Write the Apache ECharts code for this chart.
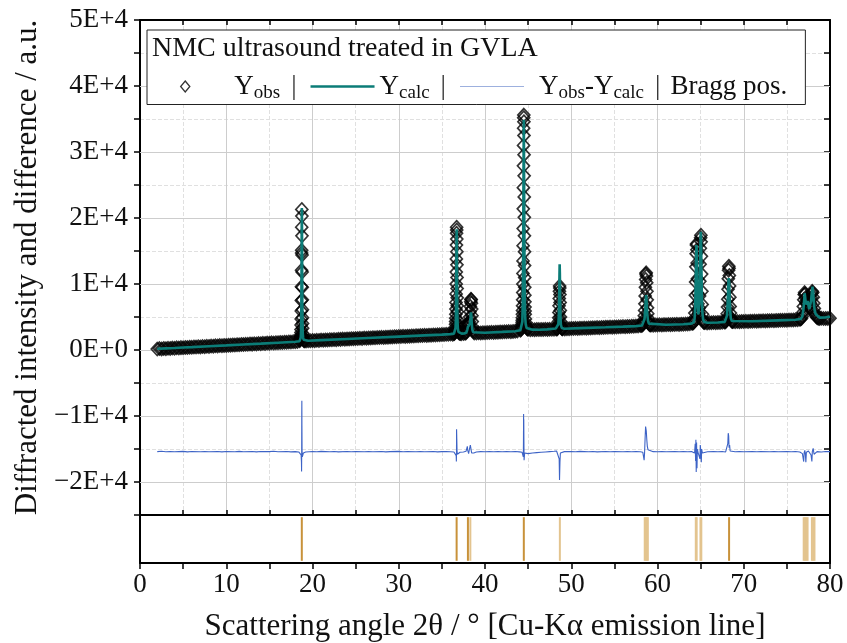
<!DOCTYPE html>
<html><head><meta charset="utf-8">
<script src="https://cdn.jsdelivr.net/npm/echarts/dist/echarts.min.js"></script>
<style>html,body{margin:0;padding:0;background:#fff}#c{width:847px;height:643px}</style>
</head><body><div id="c"></div>
<script>
// ---------- DATA ----------
const obsBackground = [
[2.00,140],[2.25,210],[2.50,170],[2.75,230],[3.00,200],[3.25,260],[3.50,240],[3.75,290],[4.00,260],[4.25,330],[4.50,300],[4.75,360],[5.00,340],[5.25,390],[5.50,370],[5.75,430],[6.00,410],[6.25,460],[6.50,440],[6.75,500],[7.00,470],[7.25,530],[7.50,510],[7.75,560],[8.00,540],[8.25,600],[8.50,580],[8.75,630],[9.00,610],[9.25,670],[9.50,650],[9.75,700],[10.00,680],[10.25,730],[10.50,720],[10.75,770],[11.00,750],[11.25,800],[11.50,790],[11.75,840],[12.00,820],[12.25,870],[12.50,860],[12.75,910],[13.00,890],[13.25,940],[13.50,920],[13.75,980],[14.00,960],[14.25,1010],[14.50,990],[14.75,1050],[15.00,1030],[15.25,1080],[15.50,1060],[15.75,1110],[16.00,1100],[16.25,1150],[16.50,1130],[16.75,1180],[17.00,1170],[17.25,1220],[17.50,1200],[17.75,1250],[18.00,1240],[18.25,1290],
[19.25,1370],[19.50,1410],[19.75,1390],[20.00,1440],[20.25,1420],[20.50,1470],[20.75,1450],[21.00,1500],[21.25,1480],[21.50,1530],[21.75,1510],[22.00,1560],[22.25,1550],[22.50,1590],[22.75,1570],[23.00,1620],[23.25,1610],[23.50,1650],[23.75,1640],[24.00,1680],[24.25,1670],[24.50,1710],[24.75,1700],[25.00,1740],[25.25,1730],[25.50,1770],[25.75,1760],[26.00,1800],[26.25,1790],[26.50,1830],[26.75,1820],[27.00,1860],[27.25,1850],[27.50,1890],[27.75,1880],[28.00,1920],[28.25,1910],[28.50,1950],[28.75,1940],[29.00,1980],[29.25,1970],[29.50,2010],[29.75,2000],[30.00,2040],[30.25,2030],[30.50,2070],[30.75,2060],[31.00,2100],[31.25,2090],[31.50,2130],[31.75,2120],[32.00,2160],[32.25,2150],[32.50,2190],[32.75,2180],[33.00,2220],[33.25,2210],[33.50,2250],[33.75,2240],[34.00,2280],[34.25,2270],[34.50,2310],[34.75,2300],[35.00,2340],[35.25,2330],[35.50,2380],[35.75,2370],[36.00,2410],[36.25,2400],
[37.25,2480],[37.50,2500],
[38.75,2570],[39.00,2560],[39.25,2600],[39.50,2590],[39.75,2630],[40.00,2610],[40.25,2650],[40.50,2640],[40.75,2680],[41.00,2660],[41.25,2700],[41.50,2690],[41.75,2730],[42.00,2720],[42.25,2760],[42.50,2750],[42.75,2790],[43.00,2780],[43.25,2820],[43.50,2830],[43.75,2880],
[45.00,3150],[45.25,3080],[45.50,3100],[45.75,3070],[46.00,3110],[46.25,3090],[46.50,3120],[46.75,3100],[47.00,3130],[47.25,3110],[47.50,3140],[47.75,3130],[48.00,3160],[48.25,3180],
[49.00,3230],[49.25,3200],[49.50,3230],[49.75,3220],[50.00,3260],[50.25,3240],[50.50,3280],[50.75,3270],[51.00,3300],[51.25,3290],[51.50,3330],[51.75,3310],[52.00,3350],[52.25,3340],[52.50,3370],[52.75,3360],[53.00,3400],[53.25,3380],[53.50,3420],[53.75,3410],[54.00,3450],[54.25,3430],[54.50,3470],[54.75,3460],[55.00,3500],[55.25,3480],[55.50,3520],[55.75,3510],[56.00,3550],[56.25,3530],[56.50,3570],[56.75,3560],[57.00,3600],[57.25,3580],[57.50,3620],[57.75,3640],[58.00,3700],
[59.25,3800],[59.50,3760],[59.75,3790],[60.00,3780],[60.25,3810],[60.50,3800],[60.75,3830],[61.00,3820],[61.25,3850],[61.50,3840],[61.75,3870],[62.00,3860],[62.25,3890],[62.50,3880],[62.75,3910],[63.00,3900],[63.25,3930],[63.50,3940],[63.75,3980],[64.00,4050],
[65.50,4150],[65.75,4100],[66.00,4130],[66.25,4120],[66.50,4150],[66.75,4140],[67.00,4170],[67.25,4160],[67.50,4200],[67.75,4240],
[68.75,4320],[69.00,4280],[69.25,4300],[69.50,4290],[69.75,4320],[70.00,4310],[70.25,4340],[70.50,4330],[70.75,4360],[71.00,4350],[71.25,4380],[71.50,4370],[71.75,4400],[72.00,4390],[72.25,4420],[72.50,4410],[72.75,4440],[73.00,4430],[73.25,4460],[73.50,4450],[73.75,4480],[74.00,4470],[74.25,4500],[74.50,4490],[74.75,4520],[75.00,4510],[75.25,4540],[75.50,4530],[75.75,4560],[76.00,4570],[76.25,4600],[76.50,4650],
[79.00,4800],[79.25,4760],[79.50,4790],[79.75,4780],[80.00,4800]
];
const obsPeaks = [
[18.50,1400],[18.56,1500],[18.60,1650],[18.62,1800],[18.64,2050],[18.65,2300],[18.66,2650],[18.67,3100],[18.68,3800],[18.69,4700],[18.70,5900],[18.71,7500],[18.72,9600],[18.73,12100],[18.74,14700],[18.745,15100],[18.75,18600],[18.76,21300],[18.77,20300],[18.78,17300],[18.79,14400],[18.80,11800],[18.81,9500],[18.82,7600],[18.83,6100],[18.84,4900],[18.85,4000],[18.86,3300],[18.88,2500],[18.90,2000],[18.93,1700],[18.97,1500],[19.02,1400],[19.08,1390],
[36.40,2450],[36.46,2550],[36.50,2700],[36.53,2900],[36.55,3100],[36.57,3450],[36.59,3900],[36.60,4300],[36.61,4800],[36.62,5400],[36.63,6200],[36.64,7200],[36.65,8500],[36.66,10000],[36.67,11800],[36.68,13800],[36.69,15900],[36.70,17700],[36.71,18600],[36.72,18200],[36.73,16800],[36.74,14900],[36.75,12900],[36.76,11000],[36.77,9300],[36.78,7900],[36.79,6700],[36.80,5800],[36.82,4600],[36.84,3800],[36.87,3200],[36.91,2850],[36.96,2650],[37.03,2550],[37.12,2500],
[37.70,2520],[37.80,2600],[37.88,2800],[37.94,3200],[37.98,3700],[38.01,4000],[38.04,4100],[38.07,3900],[38.10,3800],[38.14,3900],[38.18,4300],[38.22,5000],[38.26,5800],[38.30,6600],[38.34,7300],[38.37,7700],[38.40,7600],[38.43,7100],[38.46,6200],[38.49,5200],[38.52,4300],[38.56,3500],[38.61,3000],[38.67,2750],
[44.10,3000],[44.18,3100],[44.24,3300],[44.27,3550],[44.30,3900],[44.31,4200],[44.32,4500],[44.33,4900],[44.34,5400],[44.35,6000],[44.36,6700],[44.37,7600],[44.38,8700],[44.39,10000],[44.40,11600],[44.41,13500],[44.42,15800],[44.43,18400],[44.44,21400],[44.45,24600],[44.46,27900],[44.47,31000],[44.48,33600],[44.49,35200],[44.50,35600],[44.51,34600],[44.52,32500],[44.53,29600],[44.54,26400],[44.55,23200],[44.56,20100],[44.57,17300],[44.58,14900],[44.59,12800],[44.60,11000],[44.61,9500],[44.62,8300],[44.63,7300],[44.64,6500],[44.65,5900],[44.66,5400],[44.68,4700],[44.70,4200],[44.73,3800],[44.78,3500],[44.85,3300],[44.92,3200],
[48.35,3200],[48.42,3300],[48.47,3500],[48.50,3800],[48.53,4300],[48.55,4900],[48.57,5700],[48.59,6700],[48.61,7800],[48.63,8900],[48.65,9700],[48.67,9400],[48.69,8400],[48.71,7200],[48.73,6000],[48.75,5000],[48.77,4300],[48.80,3700],[48.84,3400],[48.90,3250],[48.96,3230],
[58.15,3720],[58.25,3800],[58.32,3950],[58.38,4200],[58.43,4600],[58.47,5200],[58.51,6000],[58.54,7000],[58.57,8200],[58.60,9500],[58.63,10700],[58.66,11500],[58.69,11700],[58.72,11200],[58.75,10200],[58.78,8900],[58.81,7600],[58.84,6400],[58.87,5500],[58.91,4800],[58.95,4300],[59.00,4000],[59.07,3850],[59.15,3800],
[64.10,4060],[64.18,4150],[64.24,4350],[64.29,4800],[64.33,5600],[64.36,6700],[64.39,8300],[64.42,10300],[64.45,12600],[64.48,14600],[64.51,15900],[64.54,16100],[64.57,15200],[64.60,13200],[64.63,10800],[64.66,8600],[64.69,7000],[64.72,6000],[64.76,5500],[64.80,5600],[64.84,6400],[64.88,8200],[64.91,10400],[64.94,13000],[64.97,15400],[65.00,17000],[65.03,17400],[65.06,16400],[65.09,14200],[65.12,11500],[65.15,8900],[65.18,6900],[65.22,5400],[65.27,4600],[65.33,4250],[65.40,4150],
[67.85,4250],[67.93,4350],[67.99,4550],[68.04,4900],[68.08,5500],[68.12,6500],[68.15,7700],[68.18,9200],[68.21,10800],[68.24,12100],[68.27,12700],[68.30,12400],[68.33,11300],[68.36,9700],[68.39,8000],[68.42,6600],[68.45,5600],[68.49,4900],[68.55,4500],[68.62,4350],[68.70,4300],
[76.60,4680],[76.70,4800],[76.78,5100],[76.85,5700],[76.91,6600],[76.96,7600],[77.01,8400],[77.06,8700],[77.11,8500],[77.16,7900],[77.21,7300],[77.26,7000],[77.31,7100],[77.36,7500],[77.41,7700],[77.46,7400],[77.52,6800],[77.58,6400],[77.64,6300],[77.70,6500],[77.76,7100],[77.82,7900],[77.88,8600],[77.94,8900],[78.00,8700],[78.06,8000],[78.12,7100],[78.18,6300],[78.25,5700],[78.33,5300],[78.42,5050],[78.52,4900],[78.65,4820],[78.80,4790]
];
const calcProfile = [
[2.0,180],[3.0,250],[4.0,300],[5.0,370],[6.0,430],[8.0,570],[10.0,700],[12.0,840],[14.0,970],[16.0,1110],[17.0,1180],[18.0,1250],[18.5,1330],[18.6,1480],[18.64,1900],[18.67,2700],[18.69,4200],[18.71,7300],[18.73,12400],[18.75,18600],[18.765,21500],[18.78,18600],[18.80,12000],[18.82,7000],[18.84,4200],[18.87,2600],[18.91,1900],[18.97,1550],[19.1,1420],[19.5,1400],[21,1490],[24,1670],[27,1850],[30,2030],[33,2210],[35,2330],[36,2400],[36.4,2480],[36.5,2650],[36.58,3300],[36.62,4600],[36.65,7500],[36.68,13000],[36.70,17000],[36.715,18300],[36.73,16500],[36.75,12000],[36.78,7000],[36.81,4500],[36.85,3300],[36.92,2750],[37.05,2530],[37.3,2480],[37.6,2500],[37.85,2650],[37.95,3100],[38.02,3500],[38.07,3300],[38.15,3400],[38.25,4000],[38.32,4900],[38.37,5700],[38.41,5300],[38.46,4100],[38.53,3100],[38.62,2700],[38.8,2560],[40,2620],[42,2740],[43.5,2850],[44.1,2980],[44.25,3200],[44.33,4300],[44.38,7500],[44.42,14000],[44.45,22500],[44.475,30000],[44.495,34900],[44.51,33500],[44.53,27000],[44.56,18000],[44.59,11000],[44.62,7200],[44.66,5000],[44.72,3900],[44.82,3350],[45,3150],[45.5,3080],[46.3,3060],[47.2,3120],[48.2,3250],[48.4,3400],[48.5,3900],[48.56,5200],[48.6,7800],[48.63,11000],[48.655,13000],[48.68,11500],[48.71,7800],[48.75,5000],[48.8,3800],[48.9,3350],[49.2,3230],[51,3310],[54,3440],[56,3540],[57.5,3620],[58.2,3720],[58.4,4000],[58.5,4700],[58.58,6100],[58.64,7600],[58.68,8300],[58.72,7800],[58.77,6500],[58.83,5200],[58.9,4400],[59,4000],[59.2,3850],[61,3830],[63,3910],[63.9,4000],[64.2,4200],[64.3,4700],[64.37,6500],[64.42,9800],[64.47,13800],[64.51,15900],[64.54,15500],[64.58,12500],[64.63,8500],[64.68,6300],[64.74,5400],[64.8,5500],[64.86,7200],[64.92,11000],[64.97,15600],[65.01,17900],[65.05,16800],[65.09,12700],[65.14,8300],[65.2,5800],[65.28,4700],[65.4,4250],[65.8,4120],[67,4170],[67.8,4260],[67.95,4500],[68.05,5200],[68.12,6600],[68.18,8800],[68.23,10500],[68.27,10900],[68.31,10200],[68.36,8200],[68.42,6000],[68.5,4800],[68.62,4400],[68.8,4300],[71,4360],[74,4490],[76,4580],[76.6,4700],[76.8,5100],[76.92,6200],[77.0,7500],[77.06,8600],[77.12,8000],[77.2,6900],[77.3,6700],[77.4,7400],[77.47,7000],[77.58,6200],[77.7,6300],[77.8,7400],[77.9,8800],[77.97,9600],[78.04,8900],[78.12,7300],[78.22,6000],[78.35,5400],[78.5,5100],[78.8,4900],[79.5,4950],[80,5050]
];
const diffProfile = [
[2.0,-15400],[2.5,-15350],[3,-15420],[3.5,-15380],[4,-15410],[5,-15360],[5.5,-15430],[6,-15390],[7,-15410],[7.5,-15370],[8,-15420],[9,-15380],[9.5,-15440],[10,-15390],[11,-15410],[11.5,-15360],[12,-15420],[13,-15380],[13.5,-15430],[14,-15390],[15,-15400],[15.5,-15350],[16,-15420],[17,-15380],[17.5,-15430],[18,-15400],[18.4,-15450],[18.6,-15600],[18.68,-15900],[18.72,-17000],[18.735,-18400],[18.745,-16200],[18.755,-9800],[18.765,-7700],[18.775,-11500],[18.79,-15200],[18.82,-16200],[18.86,-15900],[18.95,-15600],[19.2,-15450],[20,-15380],[20.5,-15420],[21,-15360],[22,-15410],[22.5,-15380],[23,-15430],[24,-15390],[24.5,-15410],[25,-15370],[26,-15420],[26.5,-15390],[27,-15410],[28,-15380],[28.5,-15430],[29,-15400],[30,-15360],[30.5,-15410],[31,-15390],[32,-15420],[32.5,-15370],[33,-15410],[34,-15390],[34.5,-15430],[35,-15400],[35.5,-15380],[36,-15420],[36.4,-15450],[36.6,-15600],[36.66,-16000],[36.68,-16900],[36.695,-15800],[36.705,-12000],[36.715,-11800],[36.73,-13500],[36.76,-15300],[36.8,-15800],[36.9,-15650],[37.1,-15500],[37.5,-15450],[37.8,-15350],[37.95,-14600],[38.0,-15200],[38.1,-15700],[38.2,-15000],[38.3,-14400],[38.38,-14500],[38.45,-15600],[38.55,-15900],[38.7,-15600],[39,-15450],[39.5,-15400],[40,-15420],[40.5,-15380],[41,-15410],[41.5,-15370],[42,-15420],[42.5,-15390],[43,-15410],[43.5,-15380],[44,-15430],[44.3,-15500],[44.4,-15800],[44.44,-16200],[44.46,-14000],[44.475,-9700],[44.485,-12800],[44.495,-10500],[44.51,-13500],[44.53,-16700],[44.56,-16200],[44.6,-15600],[44.7,-15800],[45,-15700],[45.5,-15600],[46,-15550],[46.5,-15500],[47,-15450],[47.5,-15400],[48,-15350],[48.3,-15300],[48.5,-15500],[48.6,-16500],[48.64,-19700],[48.66,-19600],[48.69,-17000],[48.74,-15600],[48.85,-15450],[49.2,-15400],[50,-15380],[50.5,-15420],[51,-15360],[52,-15410],[52.5,-15390],[53,-15430],[54,-15390],[54.5,-15410],[55,-15370],[56,-15420],[56.5,-15390],[57,-15410],[57.5,-15380],[58,-15420],[58.3,-15500],[58.45,-16700],[58.5,-15600],[58.56,-13500],[58.62,-11600],[58.66,-11400],[58.7,-12300],[58.76,-13600],[58.82,-14600],[58.9,-15100],[59.05,-15350],[59.5,-15400],[60,-15420],[60.5,-15380],[61,-15410],[62,-15370],[62.5,-15420],[63,-15390],[63.5,-15410],[64,-15400],[64.3,-15600],[64.37,-14200],[64.42,-16800],[64.45,-13600],[64.49,-18500],[64.53,-14000],[64.58,-17900],[64.62,-15000],[64.7,-15500],[64.8,-15600],[64.92,-16500],[64.96,-14400],[65.0,-15000],[65.04,-15300],[65.08,-17000],[65.12,-15000],[65.2,-15600],[65.4,-15500],[65.8,-15420],[66.5,-15380],[67,-15410],[67.5,-15390],[67.9,-15450],[68.05,-15300],[68.15,-14200],[68.2,-12600],[68.25,-13000],[68.3,-14800],[68.36,-14400],[68.42,-15300],[68.55,-15500],[69,-15420],[69.5,-15380],[70,-15410],[71,-15370],[71.5,-15420],[72,-15390],[73,-15410],[73.5,-15380],[74,-15420],[75,-15390],[75.5,-15410],[76,-15380],[76.5,-15450],[76.8,-15700],[76.95,-16900],[77.0,-15600],[77.08,-15200],[77.15,-15900],[77.2,-17000],[77.26,-15500],[77.4,-15800],[77.5,-15300],[77.65,-15600],[77.8,-15900],[77.9,-16900],[77.95,-15400],[78.05,-14900],[78.15,-15800],[78.3,-15600],[78.5,-15400],[79,-15450],[79.5,-15380],[80,-15400]
];
const braggMain = [18.76, 36.71, 38.02, 44.50, 68.30];
const braggWeak = [38.30, 48.68, 58.52, 58.64, 58.76, 58.88, 64.44, 64.54, 64.98, 65.08, 76.95, 77.10, 77.25, 77.40, 77.90, 78.05, 78.20];
const yTickValues = [-20000, -10000, 0, 10000, 20000, 30000, 40000, 50000];
const yTickLabels = ['\u22122E+4', '\u22121E+4', '0E+0', '1E+4', '2E+4', '3E+4', '4E+4', '5E+4'];
const seriesNames = ['Yobs', 'Ycalc', 'Yobs-Ycalc', 'Bragg pos.'];
const legendLabels = {
  'Yobs': '{f|Y}{s|obs}{p||}',
  'Ycalc': '{m|Y}{s|calc}{p||}',
  'Yobs-Ycalc': '{g|Y}{s|obs}{m|-Y}{s|calc}{p||}{b|Bragg pos.}'
};
const chartTitle = 'NMC ultrasound treated in GVLA';
const xName = 'Scattering angle 2\u03b8 / \u00b0 [Cu-K\u03b1 emission line]';
const yName = 'Diffracted intensity and difference / a.u.';

// ---------- CHART ----------
const FF = '"Liberation Serif", "Times New Roman", serif';
const chart = echarts.init(document.getElementById('c'), null, {renderer: 'canvas'});
const blk = {color: '#000', width: 2};
const teal = '#0b7c77';
const diffBlue = '#3d63c6';
function mainX(pos) {
  return {
    gridIndex: 0, type: 'value', min: 0, max: 80, interval: 10, position: pos,
    axisLine: {show: true, onZero: false, lineStyle: blk},
    axisTick: {show: true, inside: true, length: 5, lineStyle: {color: '#000', width: 1.5}},
    minorTick: {show: true, splitNumber: 2, length: 5, lineStyle: {color: '#000', width: 1.5}},
    axisLabel: {show: false},
    splitLine: {show: pos === 'bottom', lineStyle: {color: '#cdcdcd', width: 1}},
    minorSplitLine: {show: pos === 'bottom', lineStyle: {color: '#e0e0e0', width: 1, type: 'dashed'}}
  };
}
const option = {
  animation: false,
  backgroundColor: '#fff',
  title: {
    text: chartTitle, left: 152, top: 35, padding: 0, z: 12,
    textStyle: {fontFamily: FF, fontSize: 28, fontWeight: 'normal', color: '#111'}
  },
  legend: {
    left: 147, top: 30, orient: 'horizontal', z: 10,
    itemWidth: 64, itemHeight: 11, itemGap: 14,
    padding: [43, 18, 2, 33],
    backgroundColor: '#fff', borderColor: '#222', borderWidth: 1,
    selectedMode: false,
    data: [
      {name: seriesNames[0], icon: 'path://M5,0L10,6L5,12L0,6Z',
       itemStyle: {color: 'rgba(0,0,0,0)', borderColor: '#000', borderWidth: 1.3}},
      {name: seriesNames[1], icon: 'path://M0,0H64V2.6H0Z',
       itemStyle: {color: teal, borderWidth: 0}},
      {name: seriesNames[2], icon: 'path://M0,0H64V1.2H0Z',
       itemStyle: {color: '#9db0de', borderWidth: 0}}
    ],
    formatter: name => legendLabels[name],
    textStyle: {
      fontFamily: FF, fontSize: 27, color: '#111',
      rich: {
        m: {fontFamily: FF, fontSize: 27, color: '#111', lineHeight: 32},
        f: {fontFamily: FF, fontSize: 27, color: '#111', lineHeight: 32, padding: [0, 0, 0, 12]},
        g: {fontFamily: FF, fontSize: 27, color: '#111', lineHeight: 32, padding: [0, 0, 0, 10]},
        s: {fontFamily: FF, fontSize: 19, color: '#111', lineHeight: 14, verticalAlign: 'bottom'},
        p: {fontFamily: FF, fontSize: 27, color: '#333', lineHeight: 32, padding: [0, 0, 0, 11]},
        b: {fontFamily: FF, fontSize: 27, color: '#111', lineHeight: 32, padding: [0, 0, 0, 10]}
      }
    }
  },
  grid: [
    {left: 140, right: 17, top: 20, height: 495, containLabel: false},
    {left: 140, right: 17, top: 515, height: 48, containLabel: false}
  ],
  xAxis: [
    mainX('bottom'),
    mainX('top'),
    {
      gridIndex: 1, type: 'value', min: 0, max: 80, interval: 10, position: 'bottom',
      axisLine: {show: true, onZero: false, lineStyle: blk},
      axisTick: {show: true, inside: false, length: 6, lineStyle: {color: '#000', width: 1.5}},
      minorTick: {show: true, splitNumber: 2, length: 6, lineStyle: {color: '#000', width: 1.5}},
      axisLabel: {show: true, fontFamily: FF, fontSize: 27, color: '#111', margin: 8},
      splitLine: {show: false},
      name: xName, nameLocation: 'middle', nameGap: 48,
      nameTextStyle: {fontFamily: FF, fontSize: 31, color: '#111'}
    },
    {
      gridIndex: 1, type: 'value', min: 0, max: 80, position: 'top',
      axisLine: {show: true, onZero: false, lineStyle: blk},
      axisTick: {show: false}, axisLabel: {show: false}, splitLine: {show: false}
    }
  ],
  yAxis: [
    {
      gridIndex: 0, type: 'value', min: -25000, max: 50000, interval: 5000, position: 'left',
      axisLine: {show: true, onZero: false, lineStyle: blk},
      axisTick: {show: true, inside: false, length: 6, lineStyle: {color: '#000', width: 1.5}},
      axisLabel: {
        show: true, fontFamily: FF, fontSize: 27, color: '#111', margin: 12,
        formatter: v => { const i = yTickValues.indexOf(v); return i < 0 ? '' : yTickLabels[i]; }
      },
      splitLine: {show: true, lineStyle: {color: '#e0e0e0', width: 1, type: 'dashed'}},
      name: yName, nameLocation: 'middle', nameGap: 88,
      nameTextStyle: {fontFamily: FF, fontSize: 31, color: '#111'}
    },
    {
      gridIndex: 0, type: 'value', min: -25000, max: 50000, interval: 5000, position: 'right',
      axisLine: {show: true, onZero: false, lineStyle: blk},
      axisTick: {show: true, inside: true, length: 6, lineStyle: {color: '#000', width: 1.5}},
      axisLabel: {show: false}, splitLine: {show: false}
    },
    {
      gridIndex: 1, type: 'value', min: -0.05, max: 1.05, position: 'left',
      axisLine: {show: true, onZero: false, lineStyle: blk},
      axisTick: {show: false}, axisLabel: {show: false}, splitLine: {show: false}
    },
    {
      gridIndex: 1, type: 'value', min: -0.05, max: 1.05, position: 'right',
      axisLine: {show: true, onZero: false, lineStyle: blk},
      axisTick: {show: false}, axisLabel: {show: false}, splitLine: {show: false}
    }
  ],
  series: [
    {
      name: '_majorGrid', type: 'line', xAxisIndex: 0, yAxisIndex: 0, data: [], z: 1, silent: true,
      markLine: {
        silent: true, symbol: 'none', label: {show: false}, animation: false, z: 1,
        lineStyle: {color: '#cdcdcd', width: 1, type: 'solid'},
        data: yTickValues.filter(v => v < 50000).map(v => ({yAxis: v}))
      }
    },
    {
      name: seriesNames[0], type: 'scatter', xAxisIndex: 0, yAxisIndex: 0,
      data: obsBackground.concat(obsPeaks),
      symbol: 'diamond', symbolSize: [12, 13], z: 2,
      itemStyle: {color: 'rgba(0,0,0,0)', borderColor: '#000', borderWidth: 1.7}
    },
    {
      name: seriesNames[1], type: 'line', xAxisIndex: 0, yAxisIndex: 0,
      data: calcProfile, symbol: 'none', z: 3,
      lineStyle: {color: teal, width: 2.6}, itemStyle: {color: teal}
    },
    {
      name: seriesNames[2], type: 'line', xAxisIndex: 0, yAxisIndex: 0,
      data: diffProfile, symbol: 'none', z: 3,
      lineStyle: {color: diffBlue, width: 1.1}, itemStyle: {color: diffBlue}
    },
    {
      name: seriesNames[3], type: 'bar', xAxisIndex: 2, yAxisIndex: 2,
      data: braggWeak.map(x => [x, 1]), barWidth: 2, barGap: '-100%',
      itemStyle: {color: '#e3c48f'}
    },
    {
      name: seriesNames[3], type: 'bar', xAxisIndex: 2, yAxisIndex: 2,
      data: braggMain.map(x => [x, 1]), barWidth: 2, barGap: '-100%',
      itemStyle: {color: '#c8923a'}
    }
  ]
};
chart.setOption(option);
</script></body></html>
